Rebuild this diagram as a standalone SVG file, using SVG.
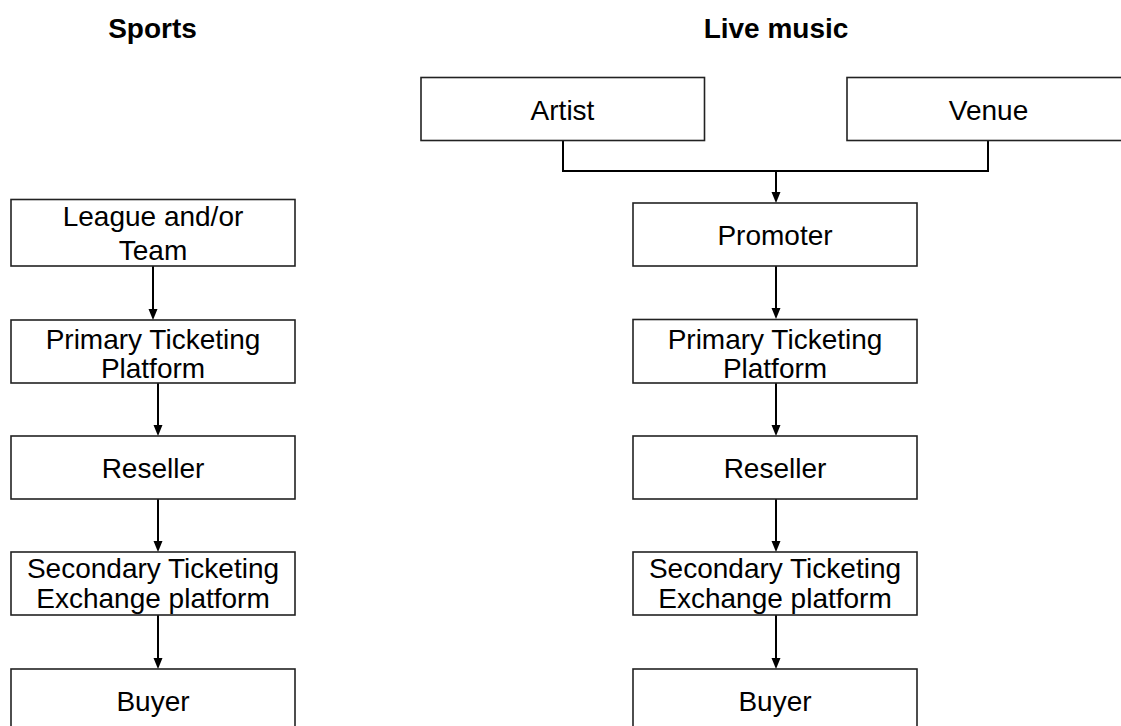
<svg xmlns="http://www.w3.org/2000/svg" width="1121" height="726" viewBox="0 0 1121 726">
<defs>
<style>
.box{fill:#fff;stroke:#222;stroke-width:1.6}
.t{font-family:"Liberation Sans",Arial,sans-serif;font-size:28px;fill:#000;text-anchor:middle}
.h{font-family:"Liberation Sans",Arial,sans-serif;font-size:28px;font-weight:bold;fill:#000;text-anchor:middle}
.c{fill:none;stroke:#000;stroke-width:2}
.a{fill:#000}
</style>
</defs>
<rect width="1121" height="726" fill="#fff"/>
<text class="h" x="152.5" y="38">Sports</text>
<text class="h" x="776" y="38">Live music</text>

<g id="connectors">
<path class="c" d="M153,266 V310"/>
<path class="a" d="M148.5,309 L157.5,309 L153,320 Z"/>
<path class="c" d="M158,383 V426"/>
<path class="a" d="M153.5,425 L162.5,425 L158,436 Z"/>
<path class="c" d="M158,499 V542"/>
<path class="a" d="M153.5,541 L162.5,541 L158,552 Z"/>
<path class="c" d="M158,615 V659"/>
<path class="a" d="M153.5,658 L162.5,658 L158,669 Z"/>

<path class="c" d="M563,140 V171 H988 V140"/>
<path class="c" d="M776,171 V193"/>
<path class="a" d="M771.5,192 L780.5,192 L776,203 Z"/>
<path class="c" d="M776,266 V309"/>
<path class="a" d="M771.5,308 L780.5,308 L776,319 Z"/>
<path class="c" d="M776,383 V426"/>
<path class="a" d="M771.5,425 L780.5,425 L776,436 Z"/>
<path class="c" d="M776,499 V542"/>
<path class="a" d="M771.5,541 L780.5,541 L776,552 Z"/>
<path class="c" d="M776,615 V659"/>
<path class="a" d="M771.5,658 L780.5,658 L776,669 Z"/>
</g>

<g id="s-league"><rect class="box" x="11" y="199.5" width="284" height="66.5"/><text class="t" x="153" y="226">League and/or</text><text class="t" x="153" y="260">Team</text></g>
<g id="s-primary"><rect class="box" x="11" y="320" width="284" height="63"/><text class="t" x="153" y="349">Primary Ticketing</text><text class="t" x="153" y="378">Platform</text></g>
<g id="s-reseller"><rect class="box" x="11" y="436" width="284" height="63"/><text class="t" x="153" y="477.5">Reseller</text></g>
<g id="s-secondary"><rect class="box" x="11" y="552" width="284" height="63"/><text class="t" x="153" y="578">Secondary Ticketing</text><text class="t" x="153" y="608">Exchange platform</text></g>
<g id="s-buyer"><rect class="box" x="11" y="669" width="284" height="70"/><text class="t" x="153" y="710.5">Buyer</text></g>

<g id="m-artist"><rect class="box" x="421" y="77.5" width="283.5" height="63"/><text class="t" x="562.5" y="119.5">Artist</text></g>
<g id="m-venue"><rect class="box" x="847" y="77.5" width="284" height="63"/><text class="t" x="988.5" y="119.5">Venue</text></g>
<g id="m-promoter"><rect class="box" x="633" y="203" width="284" height="63"/><text class="t" x="775" y="245">Promoter</text></g>
<g id="m-primary"><rect class="box" x="633" y="319.5" width="284" height="63.5"/><text class="t" x="775" y="349">Primary Ticketing</text><text class="t" x="775" y="378">Platform</text></g>
<g id="m-reseller"><rect class="box" x="633" y="436" width="284" height="63"/><text class="t" x="775" y="477.5">Reseller</text></g>
<g id="m-secondary"><rect class="box" x="633" y="552" width="284" height="63"/><text class="t" x="775" y="578">Secondary Ticketing</text><text class="t" x="775" y="608">Exchange platform</text></g>
<g id="m-buyer"><rect class="box" x="633" y="669" width="284" height="70"/><text class="t" x="775" y="710.5">Buyer</text></g>
</svg>
